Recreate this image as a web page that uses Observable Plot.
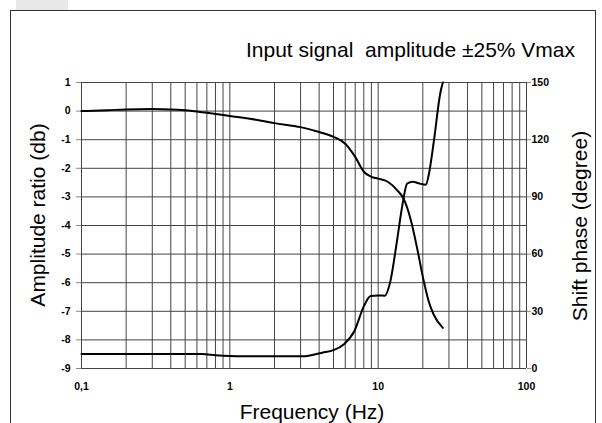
<!DOCTYPE html>
<html>
<head>
<meta charset="utf-8">
<script src="https://cdn.jsdelivr.net/npm/d3@7"></script>
<script src="https://cdn.jsdelivr.net/npm/@observablehq/plot@0.6"></script>
<style>
  html, body { margin: 0; padding: 0; background: #fff; }
  #wrap { position: relative; width: 602px; height: 423px; overflow: hidden; font-family: "Liberation Sans", Arial, sans-serif; }
  #tab { position: absolute; left: 16px; top: 0; width: 52px; height: 10px; background: #e8e8e8; }
  #frame { position: absolute; left: 10px; top: 10px; width: 586px; height: 430px; border: 1.5px solid #333; box-sizing: border-box; }
  #chart { position: absolute; left: 0; top: 0; }
</style>
</head>
<body>
<div id="wrap">
  <div id="tab"></div>
  <div id="frame"></div>
  <div id="chart"></div>
</div>
<script>
// ---- data ----
const ampFreq = [0.1, 0.15, 0.2, 0.3, 0.4, 0.5, 0.7, 1, 1.5, 2, 3, 4, 5, 6, 7, 8, 9, 10, 11.6, 13.4, 14.9, 16.6, 18.4, 20.2, 21.9, 23.7, 27.3];
const ampDb   = [0, 0.03, 0.06, 0.07, 0.06, 0.03, -0.06, -0.17, -0.3, -0.42, -0.56, -0.73, -0.9, -1.14, -1.6, -2.12, -2.3, -2.36, -2.47, -2.76, -3.08, -3.81, -4.85, -5.9, -6.65, -7.12, -7.58];

const phaseFreq = [0.1, 0.65, 0.8, 1.2, 3.1, 4.2, 5, 5.85, 6.9, 8, 8.9, 10, 11.1, 12, 13.4, 14.5, 15.7, 17.1, 19, 21, 21.9, 23.7, 26.3, 27.3];
const phaseDeg  = [7.6, 7.6, 7.0, 6.4, 6.4, 8.3, 9.6, 12.6, 19.5, 32.6, 38, 38.3, 38.2, 44.7, 67, 84.8, 97, 98, 97, 96.4, 101.4, 118.8, 144.9, 150];

const xTicks = [0.1, 1, 10, 100];
const xTickLabels = ["0,1", "1", "10", "100"];
const dbTicks = [1, 0, -1, -2, -3, -4, -5, -6, -7, -8, -9];
const degTicks = [0, 30, 60, 90, 120, 150];
const gridFreq = [];
for (const dec of [0.1, 1, 10]) for (let k = 1; k <= 9; k++) gridFreq.push(+(dec * k).toPrecision(3));
gridFreq.push(100);

const titleText = "Input signal  amplitude \u00b125% Vmax";
const yLabelLeft = "Amplitude ratio (db)";
const yLabelRight = "Shift phase (degree)";
const xLabel = "Frequency (Hz)";

// phase (deg) mapped onto the dB axis: 0..150 deg <-> -9..1 dB
const degToY = d => d / 15 - 9;
const yToDeg = y => Math.round((y + 9) * 15);

const amp = ampFreq.map((f, i) => ({f, v: ampDb[i]}));
const phase = phaseFreq.map((f, i) => ({f, v: phaseDeg[i]}));

const tickFont = {fontWeight: "bold", fontSize: 10.5};

const plot = Plot.plot({
  width: 602,
  height: 423,
  marginLeft: 81,
  marginRight: 76,
  marginTop: 82,
  marginBottom: 55,
  style: {fontFamily: "'Liberation Sans', Arial, sans-serif", background: "transparent", color: "#000"},
  x: {type: "log", domain: [0.1, 100]},
  y: {domain: [-9, 1]},
  marks: [
    Plot.ruleX(gridFreq, {stroke: "#444", strokeWidth: 1}),
    Plot.ruleY(dbTicks, {stroke: "#444", strokeWidth: 1}),
    Plot.axisX({ticks: xTicks, tickFormat: d => xTickLabels[xTicks.indexOf(d)], tickSize: 0, tickPadding: 14, label: null, ...tickFont}),
    Plot.axisY({anchor: "left", ticks: dbTicks, tickFormat: d => String(d), tickSize: 5, tickPadding: 6, stroke: "#888", label: null, ...tickFont}),
    Plot.axisY({anchor: "right", ticks: degTicks.map(degToY), tickFormat: yToDeg, tickSize: 4, tickPadding: 1, stroke: "#888", label: null, ...tickFont}),
    Plot.line(amp, {x: "f", y: "v", curve: "monotone-x", stroke: "#000", strokeWidth: 2}),
    Plot.line(phase, {x: "f", y: d => degToY(d.v), curve: "monotone-x", stroke: "#000", strokeWidth: 2})
  ]
});

const svg = d3.select(plot);
const fam = "'Liberation Sans', Arial, sans-serif";
svg.append("text").attr("x", 575).attr("y", 57).attr("text-anchor", "end")
  .attr("font-family", fam).attr("font-size", 21).attr("fill", "#000").text(titleText);
svg.append("text").attr("transform", "translate(45,215) rotate(-90)").attr("text-anchor", "middle")
  .attr("font-family", fam).attr("font-size", 21).attr("fill", "#000").text(yLabelLeft);
svg.append("text").attr("transform", "translate(587,226) rotate(-90)").attr("text-anchor", "middle")
  .attr("font-family", fam).attr("font-size", 21).attr("fill", "#000").text(yLabelRight);
svg.append("text").attr("x", 312).attr("y", 419).attr("text-anchor", "middle")
  .attr("font-family", fam).attr("font-size", 21).attr("fill", "#000").text(xLabel);

document.getElementById("chart").appendChild(plot);
</script>
</body>
</html>
